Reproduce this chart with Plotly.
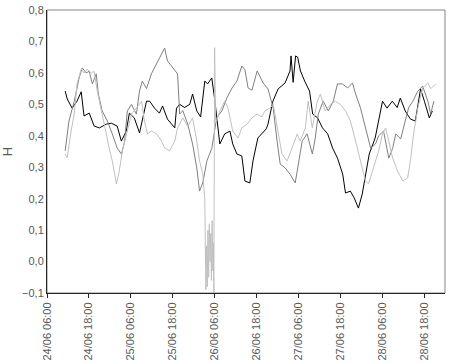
import pandas as pd
import plotly.graph_objects as go

# heures depuis le 24/06 06:00 et valeurs H
black_h = [5.2, 5.8, 7.2, 8.6, 9.8, 10.6, 12.1, 13.5, 15.0, 17.0, 18.4, 20.1, 21.3, 22.7, 23.6,
           25.0, 26.5, 28.5, 29.4, 30.8, 32.2, 33.1, 34.5, 36.6, 37.1, 38.0, 39.4, 40.9, 41.7,
           42.9, 44.0, 45.2, 46.0, 47.2, 48.1, 49.5, 50.9, 52.4, 53.2, 54.4, 55.8, 56.7, 58.1,
           59.0, 60.4, 61.6, 62.8, 63.3, 64.7, 66.2, 68.2, 69.6, 69.9, 70.5, 71.2, 71.8, 72.6,
           73.8, 75.2, 76.1, 77.5, 78.9, 80.4, 81.8, 83.2, 84.7, 85.5, 86.9, 88.0, 89.2, 90.3,
           91.1, 92.3, 94.0, 94.6, 96.1, 97.4, 98.9, 100.3, 101.2, 102.6, 104.1, 105.5, 107.0,
           108.1, 109.5, 110.4]
black_v = [0.542, 0.517, 0.488, 0.510, 0.540, 0.463, 0.472, 0.431, 0.425, 0.437, 0.440, 0.431,
           0.383, 0.415, 0.472, 0.457, 0.409, 0.510, 0.510, 0.488, 0.472, 0.495, 0.453, 0.425,
           0.488, 0.500, 0.490, 0.500, 0.533, 0.479, 0.460, 0.574, 0.565, 0.584, 0.510, 0.374,
           0.406, 0.415, 0.374, 0.342, 0.336, 0.256, 0.250, 0.320, 0.393, 0.406, 0.422, 0.437,
           0.510, 0.549, 0.568, 0.606, 0.654, 0.570, 0.654, 0.650, 0.606, 0.574, 0.542, 0.469,
           0.457, 0.425, 0.406, 0.361, 0.329, 0.278, 0.218, 0.224, 0.202, 0.170, 0.215, 0.266,
           0.342, 0.393, 0.425, 0.510, 0.488, 0.510, 0.490, 0.520, 0.479, 0.453, 0.447, 0.549,
           0.510, 0.457, 0.479]

dark_h = [5.2, 6.3, 7.8, 9.2, 10.1, 11.2, 12.1, 13.0, 14.1, 14.7, 15.8, 17.3, 18.7, 20.1, 21.3,
          22.2, 23.0, 24.2, 25.6, 26.5, 27.3, 28.5, 29.9, 31.4, 32.8, 33.7, 34.5, 36.0, 37.4,
          38.0, 38.9, 40.3, 41.7, 42.9, 43.7, 44.6, 45.8, 47.2, 48.6, 50.1, 51.5, 53.0, 54.4,
          55.8, 56.7, 57.6, 58.7, 60.2, 61.0, 61.9, 63.3, 64.8, 65.9, 66.8, 68.2, 69.6, 71.1,
          72.0, 73.1, 74.5, 76.0, 76.8, 77.7, 79.1, 80.6, 82.0, 83.2, 84.6, 86.1, 87.5, 88.4,
          89.8, 91.2, 92.7, 94.1, 95.0, 96.4, 97.9, 99.0, 99.9, 101.3, 102.7, 103.6, 104.8,
          106.2, 107.6, 109.1, 109.9, 110.8]
dark_v = [0.352, 0.447, 0.510, 0.584, 0.616, 0.600, 0.605, 0.565, 0.597, 0.533, 0.479, 0.447,
          0.406, 0.361, 0.342, 0.380, 0.479, 0.500, 0.469, 0.542, 0.574, 0.550, 0.597, 0.628,
          0.660, 0.679, 0.638, 0.616, 0.597, 0.469, 0.480, 0.437, 0.374, 0.298, 0.224, 0.250,
          0.320, 0.360, 0.457, 0.479, 0.520, 0.552, 0.574, 0.622, 0.610, 0.552, 0.545, 0.606,
          0.590, 0.568, 0.549, 0.488, 0.383, 0.310, 0.298, 0.278, 0.250, 0.310, 0.383, 0.406,
          0.342, 0.390, 0.469, 0.510, 0.479, 0.510, 0.565, 0.565, 0.552, 0.568, 0.533, 0.488,
          0.425, 0.361, 0.374, 0.400, 0.415, 0.329, 0.360, 0.406, 0.390, 0.457, 0.490, 0.510,
          0.542, 0.558, 0.510, 0.469, 0.510]

light_h = [5.2, 5.8, 6.9, 7.8, 8.6, 9.8, 10.6, 11.5, 12.7, 13.5, 14.4, 15.5, 17.0, 17.8, 18.7,
           19.9, 20.7, 21.6, 22.7, 24.2, 25.6, 27.1, 27.9, 28.8, 29.9, 31.4, 32.8, 33.7, 35.1,
           36.6, 37.4, 38.9, 40.3, 41.7, 42.9, 43.7, 44.6, 45.2, 45.5, 45.7, 45.9, 46.1, 46.3,
           46.5, 46.7, 46.9, 47.1, 47.3, 47.5, 47.6, 47.8, 48.0, 48.3, 48.6, 49.5, 50.9, 51.8,
           53.2, 54.7, 55.8, 57.3, 58.7, 60.2, 61.6, 62.4, 63.9, 64.8, 65.9, 67.3, 68.8, 70.2,
           71.7, 72.5, 74.0, 74.8, 76.0, 77.4, 78.3, 79.7, 81.2, 82.6, 84.0, 85.5, 86.9, 88.4,
           89.8, 91.2, 92.1, 93.5, 95.0, 96.1, 97.0, 97.9, 99.0, 100.4, 101.9, 103.3, 104.2,
           105.0, 106.2, 107.6, 109.1, 109.9, 111.4]
light_v = [0.342, 0.330, 0.415, 0.470, 0.565, 0.612, 0.600, 0.612, 0.600, 0.605, 0.542, 0.488,
           0.406, 0.361, 0.320, 0.247, 0.288, 0.352, 0.406, 0.469, 0.488, 0.510, 0.447, 0.406,
           0.415, 0.406, 0.383, 0.361, 0.352, 0.383, 0.425, 0.457, 0.430, 0.457, 0.383, 0.320,
           0.280, 0.200, -0.090, 0.050, -0.080, 0.100, -0.050, 0.120, 0.000, 0.090, -0.060,
           0.130, -0.030, 0.060, -0.100, 0.680, 0.450, 0.447, 0.479, 0.510, 0.490, 0.415, 0.393,
           0.425, 0.437, 0.457, 0.469, 0.460, 0.479, 0.488, 0.500, 0.425, 0.342, 0.320, 0.361,
           0.406, 0.383, 0.425, 0.510, 0.425, 0.510, 0.533, 0.479, 0.500, 0.510, 0.500, 0.479,
           0.447, 0.383, 0.320, 0.256, 0.247, 0.298, 0.352, 0.406, 0.425, 0.383, 0.329, 0.288,
           0.256, 0.266, 0.329, 0.406, 0.488, 0.552, 0.568, 0.550, 0.565]

tick_labels = ["24/06 06:00", "24/06 18:00", "25/06 06:00", "25/06 18:00", "26/06 06:00",
               "26/06 18:00", "27/06 06:00", "27/06 18:00", "28/06 06:00", "28/06 18:00"]

start = pd.Timestamp("2014-06-24 06:00")


def to_time(hours):
    return start + pd.to_timedelta(hours, unit="h")


fig = go.Figure()
fig.add_trace(go.Scatter(x=to_time(black_h), y=black_v, mode="lines",
                         line=dict(color="#000000", width=1), name="1"))
fig.add_trace(go.Scatter(x=to_time(dark_h), y=dark_v, mode="lines",
                         line=dict(color="#808080", width=1), name="2"))
fig.add_trace(go.Scatter(x=to_time(light_h), y=light_v, mode="lines",
                         line=dict(color="#c0c0c0", width=1), name="3"))

tick_vals = [start + pd.Timedelta(hours=12 * i) for i in range(len(tick_labels))]

fig.update_layout(
    width=452, height=363,
    margin=dict(l=47, r=7, t=10, b=70, autoexpand=False),
    paper_bgcolor="white", plot_bgcolor="white",
    showlegend=False,
    separators=", ",
    font=dict(family="Liberation Sans, Arial, sans-serif", size=11, color="#595959"),
    shapes=[dict(type="rect", xref="paper", yref="paper", x0=0, y0=0, x1=1, y1=1,
                 line=dict(color="#868686", width=1), layer="below")],
)
fig.update_xaxes(
    range=[start, to_time(114.0)], automargin=False,
    tickvals=tick_vals, ticktext=tick_labels, tickangle=-90,
    showgrid=False, zeroline=False,
    showline=True, linecolor="#262626", linewidth=1,
    ticks="outside", ticklen=4, tickcolor="#262626",
)
fig.update_yaxes(
    range=[-0.1, 0.8], dtick=0.1, tickformat=".1f", automargin=False,
    showgrid=False, zeroline=False,
    showline=True, linecolor="#262626", linewidth=1,
    ticks="", ticklen=0, title=dict(text="H", standoff=10),
)

# marge par défaut du <body> supprimée pour que la figure remplisse la fenêtre
fig.write_html("out.html", config={"displayModeBar": False},
               post_script="document.body.style.margin='0';")
